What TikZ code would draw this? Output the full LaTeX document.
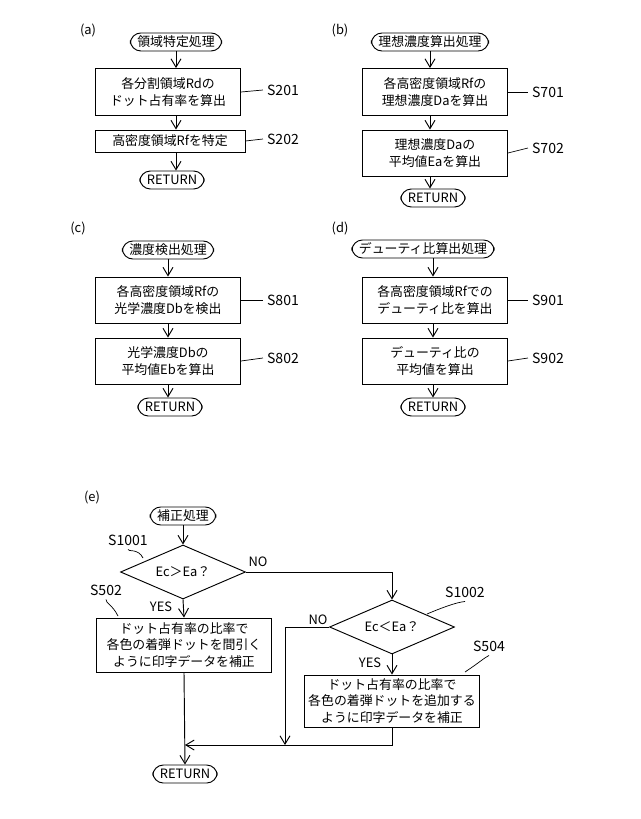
\documentclass[tikz,border=0pt]{standalone}
\usepackage{fontspec}
\setmainfont{Noto Sans CJK JP}
\usepackage{tikz}
\usetikzlibrary{arrows.meta,shapes.geometric}

\tikzset{
  proc/.style={draw, line width=0.8pt, minimum width=145*0.03cm, align=center, font=\fontsize{11}{14}\selectfont, inner sep=2pt},
  term/.style={draw, line width=0.8pt, rounded corners=9pt, minimum height=18*0.03cm, inner xsep=6pt, inner ysep=1pt, font=\fontsize{11}{13}\selectfont},
  dec/.style={draw, line width=0.8pt, diamond, aspect=2.3, inner sep=1pt, minimum width=125*0.03cm, minimum height=54*0.03cm, font=\fontsize{11}{13}\selectfont},
  lbl/.style={font=\fontsize{12}{14}\selectfont},
  tag/.style={font=\fontsize{11}{13}\selectfont},
  flow/.style={line width=0.8pt, -{Straight Barb[length=2.5mm,width=3mm]}},
  link/.style={line width=0.6pt}
}

\begin{document}
\begin{tikzpicture}[x=0.03cm, y=-0.03cm]
        \useasboundingbox (0,0) rectangle (640,819);

        % (a) region
        \node[tag] (ta) at (88,30) {(a)};
        \node[term] (a0) at (176,42) {領域特定処理};
        \node[proc, minimum height=47*0.03cm] (a1) at (168,92) {各分割領域Rdの\\ドット占有率を算出};
        \node[proc, minimum width=150*0.03cm, minimum height=22*0.03cm] (a2) at (170,141) {高密度領域Rfを特定};
        \node[term] (a3) at (172,180) {RETURN};
        \node[lbl] (sa1) at (283,90) {S201};
        \node[lbl] (sa2) at (283,139) {S202};
        \draw[flow] (a0) -- (a0 |- a1.north);
        \draw[flow] (a0 |- a1.south) -- (a0 |- a2.north);
        \draw[flow] (a0 |- a2.south) -- (a0 |- a3.north);
        \draw[link] (a1.east) -- (sa1.west);
        \draw[link] (a2.east) -- (sa2.west);

        % (b) ideal density
        \node[tag] (tb) at (340,30) {(b)};
        \node[term] (b0) at (430,42) {理想濃度算出処理};
        \node[proc, minimum height=47*0.03cm] (b1) at (435,92) {各高密度領域Rfの\\理想濃度Daを算出};
        \node[proc, minimum height=46*0.03cm] (b2) at (435,153) {理想濃度Daの\\平均値Eaを算出};
        \node[term] (b3) at (433,198) {RETURN};
        \node[lbl] (sb1) at (548,92) {S701};
        \node[lbl] (sb2) at (548,148) {S702};
        \draw[flow] (b0) -- (b0 |- b1.north);
        \draw[flow] (b0 |- b1.south) -- (b0 |- b2.north);
        \draw[flow] (b0 |- b2.south) -- (b0 |- b3.north);
        \draw[link] (b1.east) -- (sb1.west);
        \draw[link] (b2.east) -- (sb2.west);

        % (c) density detection
        \node[tag] (tc) at (78,228) {(c)};
        \node[term] (c0) at (168,250) {濃度検出処理};
        \node[proc, minimum height=46*0.03cm] (c1) at (168,300) {各高密度領域Rfの\\光学濃度Dbを検出};
        \node[proc, minimum height=46*0.03cm] (c2) at (168,361) {光学濃度Dbの\\平均値Ebを算出};
        \node[term] (c3) at (170,407) {RETURN};
        \node[lbl] (sc1) at (283,300) {S801};
        \node[lbl] (sc2) at (283,358) {S802};
        \draw[flow] (c0) -- (c0 |- c1.north);
        \draw[flow] (c0 |- c1.south) -- (c0 |- c2.north);
        \draw[flow] (c0 |- c2.south) -- (c0 |- c3.north);
        \draw[link] (c1.east) -- (sc1.west);
        \draw[link] (c2.east) -- (sc2.west);

        % (d) duty ratio
        \node[tag] (td) at (340,228) {(d)};
        \node[term] (d0) at (423,249) {デューティ比算出処理};
        \node[proc, minimum height=46*0.03cm] (d1) at (435,300) {各高密度領域Rfでの\\デューティ比を算出};
        \node[proc, minimum height=46*0.03cm] (d2) at (435,361) {デューティ比の\\平均値を算出};
        \node[term] (d3) at (433,407) {RETURN};
        \node[lbl] (sd1) at (548,300) {S901};
        \node[lbl] (sd2) at (548,358) {S902};
        \draw[flow] (d3 |- d0.south) -- (d3 |- d1.north);
        \draw[flow] (d3 |- d1.south) -- (d3 |- d2.north);
        \draw[flow] (d3 |- d2.south) -- (d3 |- d3.north);
        \draw[link] (d1.east) -- (sd1.west);
        \draw[link] (d2.east) -- (sd2.west);

        % (e) correction
        \node[tag] (te) at (92,497) {(e)};
        \node[term] (e0) at (183,516) {補正処理};
        \node[dec] (e1) at (183,572) {Ec＞Ea？};
        \node[proc, minimum width=175*0.03cm, minimum height=54*0.03cm] (e2) at (184,645) {ドット占有率の比率で\\各色の着弾ドットを間引く\\ように印字データを補正};
        \node[dec] (e3) at (392,627) {Ec＜Ea？};
        \node[proc, minimum width=175*0.03cm, minimum height=52*0.03cm] (e4) at (392,701) {ドット占有率の比率で\\各色の着弾ドットを追加する\\ように印字データを補正};
        \node[term] (e5) at (185,774) {RETURN};
        \node[lbl] (se1) at (128,540) {S1001};
        \node[lbl] (se2) at (106,590) {S502};
        \node[lbl] (se3) at (465,592) {S1002};
        \node[lbl] (se4) at (489,646) {S504};
        \node[tag] (no1) at (258,562) {NO};
        \node[tag] (yes1) at (161,607) {YES};
        \node[tag] (no2) at (318,620) {NO};
        \node[tag] (yes2) at (370,663) {YES};
        \coordinate (m1) at (285,745);
        \coordinate (m2) at (185,745);

        \draw[flow] (e0) -- (e1.north);
        \draw[flow] (e1.south) -- (e2.north);
        \draw[flow] (e1.east) -| (e3.north);
        \draw[flow] (e3.south) -- (e4.north);
        \draw[flow] (e3.west) -| (m1);
        \draw[flow] (e4.south) |- (m2);
        \draw[flow] (e2.south) -- (e5.north);

        % leader lines
        \draw[link] (se1.south) .. controls (128,552) and (138,548) .. (143,558);
        \draw[link] (se2.south) .. controls (106,604) and (112,604) .. (118,616);
        \draw[link] (se3.south) .. controls (465,602) and (460,600) .. (427,614);
        \draw[link] (se4.south) .. controls (484,658) and (480,662) .. (465,672);
\end{tikzpicture}
\end{document}
